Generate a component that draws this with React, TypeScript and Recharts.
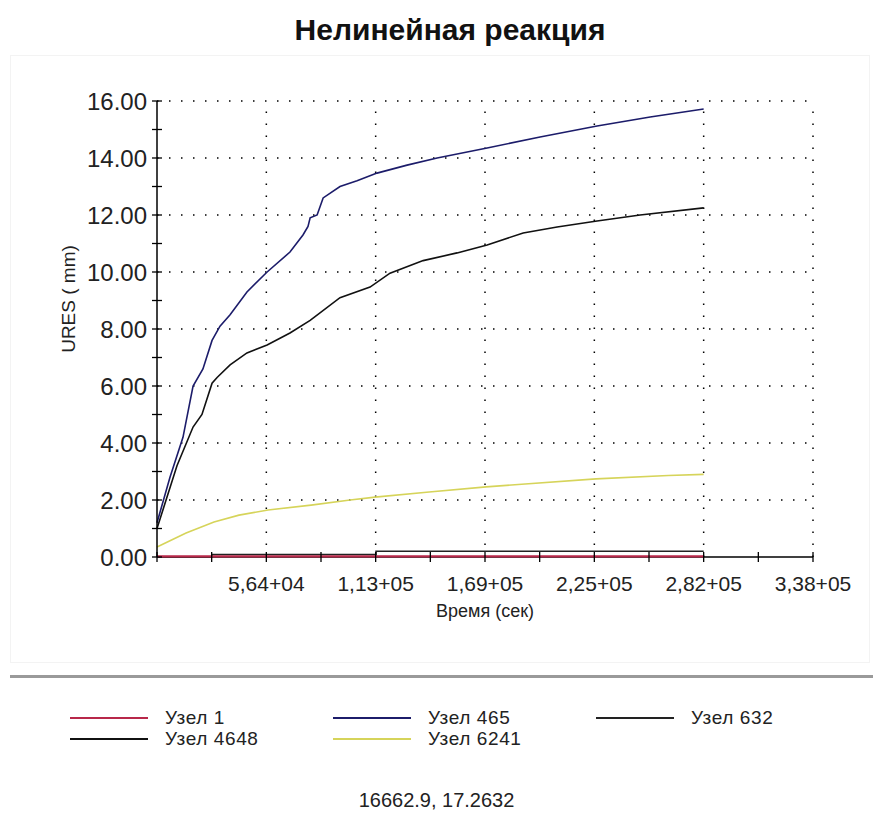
import { LineChart, Line, XAxis, YAxis, ReferenceLine } from "recharts";

const FONT = "Arial, 'Liberation Sans', sans-serif";

// time axis (sec)
const xTicks = [0, 28200, 56400, 84600, 112800, 141000, 169200, 197400, 225600, 253800, 282000, 310200, 338400];
const xMajor = [56400, 112800, 169200, 225600, 282000, 338400];
const xMajorLabels = ["5,64+04", "1,13+05", "1,69+05", "2,25+05", "2,82+05", "3,38+05"];

// URES (mm)
const yTicks = [0, 1, 2, 3, 4, 5, 6, 7, 8, 9, 10, 11, 12, 13, 14, 15, 16];
const yMajor = [2, 4, 6, 8, 10, 12, 14, 16];

const time1 = [0, 140000, 282000];
const node1 = [0.02, 0.02, 0.02];

const time465 = [0, 6700, 13400, 18600, 23700, 28400, 32500, 37700, 46400, 56800, 68600, 75300, 77900, 79000, 82600, 85700, 94400, 103200, 113500, 129000, 144500, 170300, 197600, 227000, 254400, 282000];
const node465 = [1.2, 2.8, 4.2, 6.0, 6.6, 7.6, 8.1, 8.5, 9.3, 10.0, 10.7, 11.3, 11.6, 11.9, 12.0, 12.6, 13.0, 13.2, 13.47, 13.75, 14.0, 14.35, 14.74, 15.12, 15.44, 15.72];

const time632 = [0, 28400, 113000, 282000];
const node632 = [0, 0.09, 0.2, 0.2];

const time4648 = [0, 10300, 18600, 23200, 28400, 31000, 37700, 46400, 56800, 68600, 79000, 94400, 109900, 120200, 137300, 154800, 170300, 188900, 206400, 227000, 249200, 282000];
const node4648 = [1.0, 3.2, 4.56, 5.0, 6.1, 6.3, 6.74, 7.16, 7.44, 7.86, 8.3, 9.1, 9.47, 9.96, 10.4, 10.67, 10.95, 11.37, 11.58, 11.79, 12.0, 12.25];

const time6241 = [0, 15000, 29400, 42300, 57300, 79500, 99600, 112500, 140400, 169800, 189900, 226500, 263700, 282000];
const node6241 = [0.35, 0.84, 1.23, 1.47, 1.65, 1.82, 2.0, 2.1, 2.28, 2.46, 2.56, 2.74, 2.86, 2.9];

const toRows = (t: number[], v: number[]) => t.map((x, i) => ({ t: x, v: v[i] }));

const series = [
  { name: "Узел 1", rows: toRows(time1, node1), color: "#b8284a", type: "linear", w: 2.2 },
  { name: "Узел 465", rows: toRows(time465, node465), color: "#1c1c6a", type: "linear", w: 1.6 },
  { name: "Узел 632", rows: toRows(time632, node632), color: "#222222", type: "stepAfter", w: 1.6 },
  { name: "Узел 4648", rows: toRows(time4648, node4648), color: "#111111", type: "linear", w: 1.6 },
  { name: "Узел 6241", rows: toRows(time6241, node6241), color: "#d6d45a", type: "linear", w: 1.6 },
];

// draw the near-zero black step first so the red line stays on top of it
const drawOrder = ["Узел 632", "Узел 1", "Узел 6241", "Узел 4648", "Узел 465"];

const XTick = (p: any) => {
  const v = p.payload.value;
  const i = xMajor.indexOf(v);
  return (
    <g>
      <line x1={p.x} x2={p.x} y1={p.y - 5} y2={p.y + 5} stroke="#000" strokeWidth={1.3} />
      {i >= 0 && (
        <text x={p.x} y={p.y + 26} textAnchor="middle" dominantBaseline="central" fontSize={21} fontFamily={FONT} fill="#222">
          {xMajorLabels[i]}
        </text>
      )}
    </g>
  );
};

const YTick = (p: any) => {
  const v = p.payload.value;
  return (
    <g>
      <line x1={p.x - 5} x2={p.x + 5} y1={p.y} y2={p.y} stroke="#000" strokeWidth={1.3} />
      {v % 2 === 0 && (
        <text x={p.x - 10} y={p.y} textAnchor="end" dominantBaseline="central" fontSize={24} fontFamily={FONT} fill="#222">
          {v.toFixed(2)}
        </text>
      )}
    </g>
  );
};

const YLabel = (p: any) => {
  const vb = p.viewBox;
  const cx = vb.x + 11;
  const cy = vb.y + vb.height / 2 - 30;
  return (
    <text x={cx} y={cy} transform={`rotate(-90 ${cx} ${cy})`} textAnchor="middle" dominantBaseline="central" fontSize={19} fontFamily={FONT} fill="#222">
      URES ( mm)
    </text>
  );
};

export default function App() {
  return (
    <div style={{ position: "absolute", left: 0, top: 0, width: 873, height: 823, background: "#fff", fontFamily: FONT }}>
      <div style={{ position: "absolute", left: 0, width: 900, top: 13, textAlign: "center", fontWeight: "bold", fontSize: 30, color: "#111" }}>
        Нелинейная реакция
      </div>
      <div style={{ position: "absolute", left: 10, top: 55, width: 858, height: 606, border: "1px solid #f3f3f3" }} />
      <div style={{ position: "absolute", left: 10, top: 675, width: 863, height: 3, background: "#9a9a9a" }} />
      <div style={{ position: "absolute", left: 0, top: 0 }}>
        <LineChart width={873} height={660} margin={{ top: 101, right: 60, bottom: 43, left: 57 }}>
          <XAxis
            dataKey="t"
            type="number"
            domain={[0, 338400]}
            ticks={xTicks}
            interval={0}
            tickSize={0}
            tickMargin={0}
            tick={XTick}
            height={60}
            axisLine={false}
            allowDuplicatedCategory={false}
            label={{ value: "Время (сек)", position: "insideBottom", offset: 0, fontSize: 18, fill: "#222", fontFamily: FONT }}
          />
          <YAxis
            type="number"
            domain={[0, 16]}
            ticks={yTicks}
            interval={0}
            tickSize={0}
            tickMargin={0}
            tick={YTick}
            width={100}
            axisLine={{ stroke: "#000", strokeWidth: 1.5 }}
            label={<YLabel />}
          />
          {yMajor.map((v) => (
            <ReferenceLine key={"y" + v} y={v} stroke="#000" strokeWidth={1.5} strokeDasharray="1.5 10.5" />
          ))}
          {xMajor.map((v) => (
            <ReferenceLine key={"x" + v} x={v} stroke="#000" strokeWidth={1.5} strokeDasharray="1.5 10.5" />
          ))}
          <ReferenceLine y={0} stroke="#000" strokeWidth={1.5} />
          {drawOrder.map((n) => {
            const s = series.find((d) => d.name === n)!;
            return (
              <Line
                key={s.name}
                name={s.name}
                data={s.rows}
                dataKey="v"
                type={s.type as any}
                stroke={s.color}
                strokeWidth={s.w}
                dot={false}
                isAnimationActive={false}
              />
            );
          })}
        </LineChart>
      </div>
      <div
        style={{
          position: "absolute",
          left: 70,
          top: 707,
          display: "grid",
          gridTemplateColumns: "263px 263px 263px",
          fontSize: 19,
          lineHeight: "21px",
          color: "#222",
        }}
      >
        {series.map((s) => (
          <div key={s.name} style={{ display: "flex", alignItems: "center", height: 21 }}>
            <span style={{ display: "inline-block", width: 78, height: 0, borderTop: `2px solid ${s.color}`, marginRight: 17 }} />
            <span style={{ letterSpacing: 0.6 }}>{s.name}</span>
          </div>
        ))}
      </div>
      <div style={{ position: "absolute", left: 0, width: 873, top: 789, textAlign: "center", fontSize: 20, color: "#222" }}>
        16662.9, 17.2632
      </div>
    </div>
  );
}
